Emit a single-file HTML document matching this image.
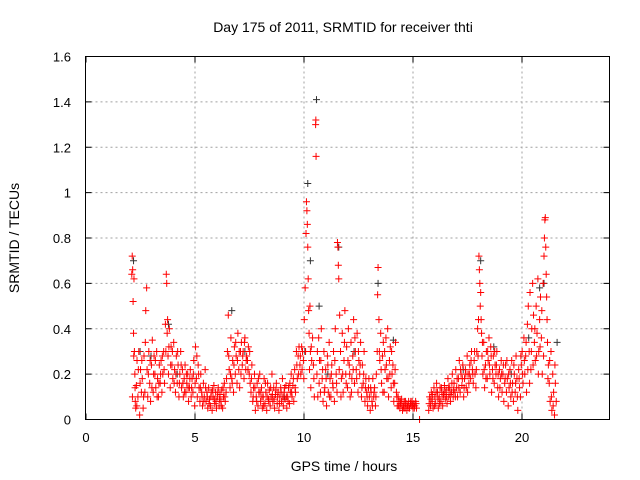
<!DOCTYPE html>
<html><head><meta charset="utf-8"><style>
body{margin:0;background:#fff}
svg{display:block;font-family:"Liberation Sans",sans-serif}
</style></head><body>
<svg id="chart" width="640" height="480" viewBox="0 0 640 480" xmlns="http://www.w3.org/2000/svg">
<text x="343" y="32" font-size="14" text-anchor="middle">Day 175 of 2011, SRMTID for receiver thti</text>
<text x="344" y="471" font-size="14" text-anchor="middle">GPS time / hours</text>
<text x="19" y="238" font-size="14" text-anchor="middle" transform="rotate(-90 19 238)">SRMTID / TECUs</text>
<g id="grid"></g>
<g id="ticks"></g>
<g id="marks"></g>
<rect x="85.5" y="56.5" width="524" height="363" fill="none" stroke="#000" stroke-width="1"/>
</svg>
<script>
const xTicks=[0,5,10,15,20];
const yTicks=[0,0.2,0.4,0.6,0.8,1,1.2,1.4,1.6];
const yTickLabels=["0","0.2","0.4","0.6","0.8","1","1.2","1.4","1.6"];
const redA=[[2.12,0.64],[2.14,0.72],[2.16,0.66],[2.18,0.52],[2.2,0.38],[2.22,0.62],[2.24,0.3],[2.26,0.2],[2.28,0.08],[2.3,0.05],[2.33,0.15],[2.36,0.26],[2.4,0.1],[2.44,0.3],[2.48,0.02],[2.52,0.22],[2.56,0.12],[2.6,0.18],[2.64,0.05],[2.68,0.28],[2.72,0.12],[2.76,0.48],[2.8,0.58],[2.82,0.22],[2.85,0.1],[2.9,0.3],[2.94,0.16],[2.98,0.08],[3.02,0.24],[3.06,0.35],[3.1,0.12],[3.14,0.28],[3.18,0.2],[3.22,0.14],[3.26,0.3],[3.3,0.18],[3.34,0.1],[3.38,0.24],[3.42,0.16],[3.46,0.26],[3.5,0.12],[3.54,0.2],[3.58,0.3],[3.62,0.16],[3.66,0.42],[3.7,0.64],[3.72,0.6],[3.74,0.38],[3.76,0.44],[3.78,0.28],[3.8,0.2],[3.84,0.4],[3.88,0.14],[3.92,0.32],[3.96,0.24],[4.0,0.18],[4.04,0.34],[4.08,0.22],[4.12,0.12],[4.16,0.28],[4.2,0.16],[4.24,0.24],[4.28,0.1],[4.32,0.2],[4.36,0.3],[4.4,0.14],[4.44,0.22],[4.48,0.1],[4.52,0.18],[4.56,0.24],[4.6,0.12],[4.64,0.16],[4.68,0.2],[4.72,0.08],[4.76,0.14],[4.8,0.22],[4.84,0.1],[4.88,0.18],[4.92,0.12],[4.96,0.26],[5.0,0.06],[5.04,0.32],[5.08,0.18],[5.12,0.1],[5.16,0.24],[5.2,0.14],[5.24,0.08],[5.28,0.2],[5.32,0.12],[5.36,0.06],[5.4,0.16],[5.44,0.1],[5.48,0.22],[5.52,0.08],[5.56,0.12],[5.6,0.05],[5.64,0.14],[5.68,0.09],[5.72,0.06],[5.76,0.12],[5.8,0.04],[5.84,0.1],[5.88,0.15],[5.92,0.07],[5.96,0.12],[6.0,0.05],[6.04,0.1],[6.08,0.14],[6.12,0.06],[6.16,0.11],[6.2,0.08],[6.24,0.13],[6.28,0.05],[6.32,0.1],[6.36,0.16],[6.4,0.08],[6.44,0.12],[6.5,0.3],[6.54,0.46],[6.58,0.22],[6.62,0.14],[6.66,0.36],[6.7,0.18],[6.74,0.26],[6.78,0.12],[6.82,0.32],[6.86,0.2],[6.9,0.28],[6.94,0.16],[6.98,0.38],[7.02,0.22],[7.06,0.14],[7.1,0.3],[7.14,0.34],[7.18,0.24],[7.22,0.3],[7.26,0.18],[7.3,0.36],[7.34,0.22],[7.38,0.28],[7.42,0.26],[7.46,0.32],[7.5,0.2],[7.54,0.16],[7.58,0.12],[7.62,0.24],[7.66,0.08],[7.7,0.14],[7.74,0.2],[7.78,0.04],[7.82,0.1],[7.86,0.16],[7.9,0.06],[7.94,0.12],[7.98,0.2],[8.02,0.08],[8.06,0.14],[8.1,0.05],[8.14,0.1],[8.18,0.18],[8.22,0.07],[8.26,0.12],[8.3,0.04],[8.34,0.16],[8.38,0.09],[8.42,0.13],[8.46,0.06],[8.5,0.1],[8.54,0.2],[8.58,0.08],[8.62,0.14],[8.66,0.05],[8.7,0.11],[8.74,0.16],[8.78,0.07],[8.82,0.12],[8.86,0.04],[8.9,0.1],[8.94,0.14],[8.98,0.08],[9.02,0.18],[9.06,0.06],[9.1,0.12],[9.14,0.09],[9.18,0.15],[9.22,0.05],[9.26,0.1],[9.3,0.14],[9.34,0.07],[9.38,0.12],[9.42,0.2],[9.46,0.1],[9.5,0.15],[9.54,0.08],[9.58,0.22],[9.62,0.12],[9.66,0.3],[9.7,0.18],[9.74,0.28],[9.78,0.32],[9.82,0.24],[9.86,0.2],[9.9,0.32],[9.94,0.3],[9.98,0.26],[10.02,0.44],[10.06,0.58],[10.1,0.82],[10.12,0.96],[10.14,0.92],[10.16,0.86],[10.18,0.76],[10.2,0.62],[10.22,0.48],[10.24,0.38],[10.26,0.22],[10.28,0.5],[10.3,0.3],[10.32,0.14],[10.34,0.32],[10.4,0.36],[10.44,0.24],[10.48,0.1],[10.54,1.3],[10.55,1.32],[10.56,1.16],[10.6,0.2],[10.64,0.1],[10.68,0.36],[10.72,0.26],[10.76,0.12],[10.8,0.4],[10.84,0.18],[10.88,0.08],[10.92,0.3],[10.96,0.14],[11.0,0.22],[11.04,0.06],[11.08,0.28],[11.12,0.12],[11.16,0.34],[11.2,0.18],[11.24,0.1],[11.28,0.24],[11.32,0.16],[11.36,0.3],[11.4,0.08],[11.44,0.4],[11.48,0.2],[11.52,0.12],[11.54,0.78],[11.56,0.76],[11.58,0.68],[11.6,0.62],[11.64,0.46],[11.68,0.3],[11.72,0.18],[11.76,0.38],[11.8,0.12],[11.84,0.26],[11.88,0.48],[11.92,0.2],[11.96,0.32],[12.0,0.14],[12.04,0.4],[12.08,0.24],[12.12,0.1],[12.16,0.34],[12.2,0.18],[12.24,0.28],[12.28,0.44],[12.32,0.16],[12.36,0.3],[12.4,0.22],[12.44,0.38],[12.48,0.12],[12.52,0.26],[12.56,0.2],[12.6,0.34],[12.64,0.1],[12.68,0.24],[12.72,0.16],[12.76,0.3],[12.8,0.08],[12.84,0.18],[12.88,0.12],[12.92,0.06],[12.96,0.14],[13.0,0.1],[13.04,0.04],[13.08,0.12],[13.12,0.08],[13.16,0.18],[13.2,0.1],[13.24,0.14],[13.28,0.06],[13.32,0.2],[13.36,0.3],[13.38,0.55],[13.4,0.67],[13.44,0.44],[13.48,0.26],[13.52,0.38],[13.56,0.16],[13.6,0.28],[13.64,0.34],[13.68,0.12],[13.72,0.22],[13.76,0.36],[13.8,0.18],[13.84,0.4],[13.88,0.1],[13.92,0.26],[13.96,0.32],[14.0,0.14],[14.04,0.2],[14.08,0.24],[14.12,0.08],[14.16,0.16],[14.2,0.34],[14.24,0.12],[14.28,0.06],[14.32,0.1],[14.36,0.08],[14.4,0.05],[14.44,0.07],[14.48,0.09],[14.52,0.04],[14.56,0.06],[14.6,0.08],[14.64,0.05],[14.68,0.07],[14.72,0.04],[14.76,0.06],[14.8,0.08],[14.84,0.05],[14.88,0.07],[14.92,0.06],[14.96,0.08],[15.0,0.05],[15.04,0.07],[15.08,0.06],[15.12,0.08],[15.16,0.05],[15.3,0.0],[15.72,0.04],[15.76,0.1],[15.8,0.06],[15.84,0.12],[15.88,0.08],[15.92,0.05],[15.96,0.14],[16.0,0.1],[16.04,0.07],[16.08,0.16],[16.12,0.12],[16.16,0.05],[16.2,0.1],[16.24,0.14],[16.28,0.08],[16.32,0.12],[16.36,0.06],[16.4,0.11],[16.44,0.15],[16.48,0.09],[16.52,0.13],[16.56,0.07],[16.6,0.18],[16.64,0.1],[16.68,0.14],[16.72,0.08],[16.76,0.12],[16.8,0.2],[16.84,0.1],[16.88,0.16],[16.92,0.12],[16.96,0.22],[17.0,0.14],[17.04,0.1],[17.08,0.18],[17.12,0.26],[17.16,0.12],[17.2,0.2],[17.24,0.15],[17.28,0.24],[17.32,0.1],[17.36,0.18],[17.4,0.22],[17.44,0.14],[17.48,0.28],[17.52,0.2],[17.56,0.16],[17.6,0.24],[17.64,0.18],[17.68,0.3],[17.72,0.22],[17.76,0.16],[17.8,0.26],[17.84,0.2],[17.88,0.14],[17.92,0.3],[17.96,0.4],[18.0,0.44],[18.02,0.72],[18.04,0.66],[18.06,0.6],[18.08,0.5],[18.1,0.56],[18.12,0.44],[18.14,0.38],[18.16,0.28],[18.2,0.2],[18.24,0.34],[18.28,0.14],[18.32,0.24],[18.36,0.3],[18.4,0.18],[18.44,0.26],[18.48,0.36],[18.52,0.2],[18.56,0.32],[18.6,0.12],[18.64,0.22],[18.68,0.28],[18.72,0.16],[18.76,0.24],[18.8,0.2],[18.84,0.3],[18.88,0.14],[18.92,0.1],[18.96,0.22],[19.0,0.18],[19.04,0.26],[19.08,0.12],[19.12,0.2],[19.16,0.08],[19.2,0.16],[19.24,0.24],[19.28,0.12],[19.32,0.18],[19.36,0.06],[19.4,0.14],[19.44,0.22],[19.48,0.1],[19.52,0.26],[19.56,0.16],[19.6,0.08],[19.64,0.2],[19.68,0.12],[19.72,0.28],[19.76,0.18],[19.8,0.04],[19.84,0.22],[19.88,0.14],[19.92,0.1],[19.96,0.24],[20.0,0.3],[20.04,0.16],[20.08,0.36],[20.12,0.2],[20.16,0.28],[20.2,0.12],[20.24,0.42],[20.28,0.5],[20.32,0.3],[20.36,0.56],[20.4,0.22],[20.44,0.4],[20.48,0.6],[20.52,0.46],[20.56,0.34],[20.6,0.26],[20.64,0.5],[20.68,0.38],[20.72,0.62],[20.76,0.3],[20.8,0.44],[20.84,0.54],[20.88,0.36],[20.92,0.2],[20.96,0.6],[21.0,0.72],[21.02,0.8],[21.04,0.88],[21.06,0.89],[21.08,0.76],[21.1,0.64],[21.12,0.54],[21.14,0.44],[21.16,0.34],[21.2,0.24],[21.24,0.16],[21.28,0.08],[21.32,0.3],[21.36,0.04],[21.4,0.2],[21.44,0.12],[21.48,0.02],[21.52,0.16],[21.56,0.08]];
const redB=[[2.15,0.1],[2.21,0.28],[2.27,0.14],[2.35,0.06],[2.42,0.22],[2.5,0.16],[2.58,0.26],[2.66,0.1],[2.74,0.34],[2.88,0.2],[2.96,0.26],[3.04,0.14],[3.12,0.2],[3.2,0.26],[3.28,0.1],[3.36,0.16],[3.44,0.2],[3.52,0.28],[3.6,0.22],[3.68,0.3],[3.82,0.32],[3.9,0.24],[3.98,0.3],[4.06,0.16],[4.14,0.2],[4.22,0.3],[4.3,0.16],[4.38,0.24],[4.46,0.16],[4.54,0.12],[4.62,0.2],[4.7,0.14],[4.78,0.18],[4.86,0.14],[4.94,0.2],[5.02,0.16],[5.1,0.28],[5.18,0.2],[5.26,0.14],[5.34,0.1],[5.42,0.08],[5.5,0.14],[5.58,0.1],[5.66,0.07],[5.74,0.1],[5.82,0.13],[5.9,0.09],[5.98,0.08],[6.06,0.12],[6.14,0.09],[6.22,0.06],[6.3,0.14],[6.38,0.1],[6.46,0.18],[6.56,0.28],[6.64,0.2],[6.72,0.16],[6.8,0.24],[6.88,0.34],[6.96,0.26],[7.04,0.3],[7.12,0.2],[7.2,0.28],[7.28,0.34],[7.36,0.26],[7.44,0.22],[7.52,0.3],[7.6,0.18],[7.68,0.1],[7.76,0.14],[7.84,0.08],[7.92,0.18],[8.0,0.12],[8.08,0.1],[8.16,0.06],[8.24,0.16],[8.32,0.1],[8.4,0.08],[8.48,0.14],[8.56,0.11],[8.64,0.09],[8.72,0.13],[8.8,0.1],[8.88,0.07],[8.96,0.12],[9.04,0.1],[9.12,0.14],[9.2,0.1],[9.28,0.08],[9.36,0.16],[9.44,0.12],[9.52,0.18],[9.6,0.14],[9.68,0.24],[9.76,0.2],[9.84,0.28],[9.92,0.22],[10.0,0.18],[10.08,0.3],[10.36,0.26],[10.46,0.18],[10.62,0.3],[10.7,0.16],[10.78,0.26],[10.86,0.22],[10.94,0.12],[11.02,0.18],[11.1,0.24],[11.18,0.1],[11.26,0.2],[11.34,0.14],[11.42,0.26],[11.5,0.16],[11.62,0.22],[11.7,0.1],[11.78,0.2],[11.86,0.34],[11.94,0.16],[12.02,0.26],[12.1,0.2],[12.18,0.12],[12.26,0.22],[12.34,0.36],[12.42,0.18],[12.5,0.3],[12.58,0.24],[12.66,0.14],[12.74,0.2],[12.82,0.14],[12.9,0.1],[12.98,0.18],[13.06,0.14],[13.14,0.06],[13.22,0.12],[13.3,0.1],[13.46,0.3],[13.54,0.22],[13.62,0.12],[13.7,0.3],[13.78,0.24],[13.86,0.18],[13.94,0.2],[14.02,0.3],[14.1,0.16],[14.18,0.22],[14.26,0.1],[14.34,0.06],[14.42,0.08],[14.5,0.06],[14.58,0.05],[14.66,0.08],[14.74,0.06],[14.82,0.05],[14.9,0.08],[14.98,0.06],[15.06,0.05],[15.14,0.07],[15.74,0.07],[15.82,0.09],[15.9,0.11],[15.98,0.06],[16.06,0.12],[16.14,0.09],[16.22,0.07],[16.3,0.14],[16.38,0.1],[16.46,0.12],[16.54,0.1],[16.62,0.14],[16.7,0.11],[16.78,0.16],[16.86,0.13],[16.94,0.1],[17.02,0.18],[17.1,0.14],[17.18,0.22],[17.26,0.18],[17.34,0.14],[17.42,0.2],[17.5,0.12],[17.58,0.2],[17.66,0.26],[17.74,0.2],[17.82,0.3],[17.9,0.22],[17.98,0.28],[18.18,0.34],[18.26,0.22],[18.34,0.18],[18.42,0.3],[18.5,0.24],[18.58,0.28],[18.66,0.18],[18.74,0.3],[18.82,0.24],[18.9,0.2],[18.98,0.14],[19.06,0.2],[19.14,0.24],[19.22,0.18],[19.3,0.26],[19.38,0.2],[19.46,0.16],[19.54,0.12],[19.62,0.24],[19.7,0.16],[19.78,0.1],[19.86,0.18],[19.94,0.28],[20.02,0.2],[20.1,0.26],[20.18,0.34],[20.26,0.22],[20.34,0.16],[20.42,0.3],[20.5,0.24],[20.58,0.4],[20.66,0.28],[20.74,0.2],[20.82,0.32],[20.9,0.48],[20.98,0.28],[21.18,0.18],[21.26,0.26],[21.34,0.1],[21.42,0.06],[21.5,0.24]];
const grayPts=[[2.2,0.7],[2.5,0.3],[3.0,0.28],[3.8,0.42],[4.2,0.2],[6.7,0.48],[7.3,0.3],[9.1,0.1],[10.05,0.3],[10.18,1.04],[10.3,0.7],[10.58,1.41],[10.7,0.5],[11.1,0.2],[11.6,0.76],[12.3,0.3],[13.4,0.6],[14.1,0.35],[17.3,0.22],[18.1,0.7],[18.7,0.32],[19.5,0.2],[20.3,0.36],[20.8,0.58],[21.0,0.6],[21.6,0.34]];
const X0=85.5,X1=609.5,Y0=419.5,Y1=56.5;
function xs(t){return X0+(t/24)*(X1-X0);}
function ys(v){return Y0-(v/1.6)*(Y0-Y1);}
const NS="http://www.w3.org/2000/svg";
const grid=document.getElementById('grid'),ticks=document.getElementById('ticks'),marks=document.getElementById('marks');
function mk(tag,attrs,parent){const e=document.createElementNS(NS,tag);for(const k in attrs)e.setAttribute(k,attrs[k]);parent.appendChild(e);return e;}
xTicks.forEach(t=>{const x=Math.round(xs(t));
 if(t>0){const g=mk('line',{x1:x,y1:Y1,x2:x,y2:Y0,stroke:'#a0a0a0','stroke-dasharray':'2,3'},grid);
 
 }
 const tk=mk('path',{d:`M${x},${Y0}v-6M${x},${Y1}v6`,stroke:'#000'},ticks);
 
 
 const l=mk('text',{x:x,y:442,'font-size':13,'text-anchor':'middle'},ticks);l.textContent=String(t);
 
 });
yTicks.forEach((v,i)=>{const y=ys(v);
 if(v>0&&v<1.6){const g=mk('line',{x1:X0,y1:y,x2:X1,y2:y,stroke:'#a0a0a0','stroke-dasharray':'2,3'},grid);
 
 }
 const tk=mk('path',{d:`M${X0},${y}h6M${X1},${y}h-6`,stroke:'#000'},ticks);
 
 
 const l=mk('text',{x:71,y:y+5,'font-size':13,'text-anchor':'end'},ticks);l.textContent=yTickLabels[i];
 
 });
function plus(t,v,c){const x=xs(t),y=ys(v);
 const p=mk('path',{d:`M${x-3.5},${y}h7M${x},${y-3.5}v7`,stroke:c,'stroke-width':1},marks);
 
 }
grayPts.forEach(p=>plus(p[0],p[1],'#333'));
redA.forEach(p=>plus(p[0],p[1],'#ff0000'));
redB.forEach(p=>plus(p[0],p[1],'#ff0000'));
</script>
</body></html>
